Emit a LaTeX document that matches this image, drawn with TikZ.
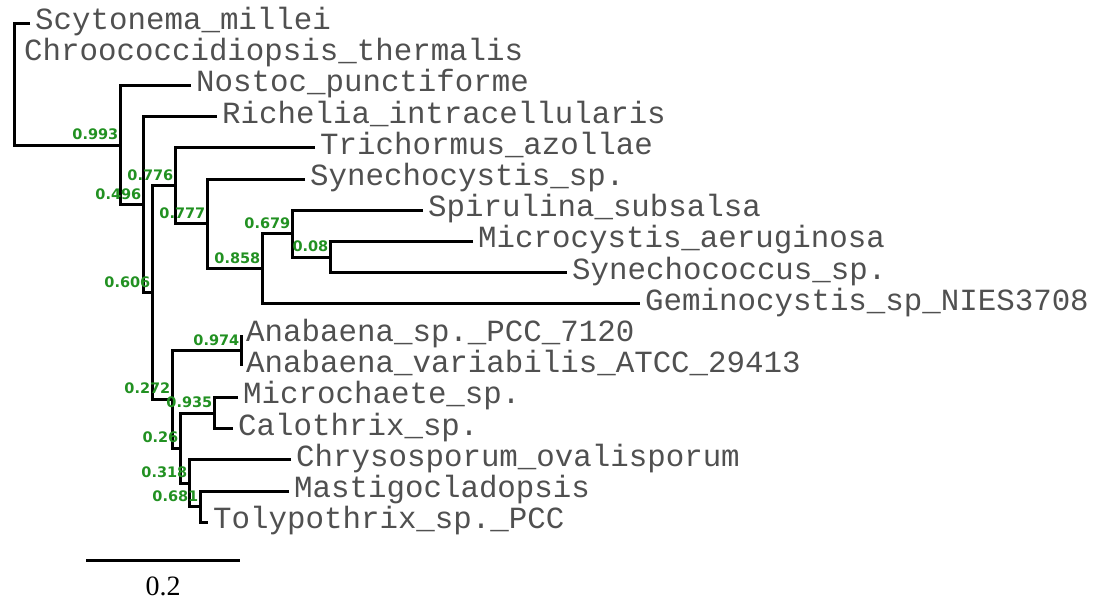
\documentclass[tikz,border=0pt]{standalone}
\usepackage{fontspec}
\newfontfamily\leaffont{Liberation Mono}
\newfontfamily\supfont{DejaVu Sans}
\newfontfamily\barfont{Liberation Serif}
\definecolor{supgreen}{RGB}{34,145,34}
\definecolor{leafgray}{RGB}{80,80,80}
\tikzset{
  branch/.style={line width=3pt, draw=black},
  leaflabel/.style={anchor=base west, inner sep=0pt, xshift=5pt, yshift=-6.5pt,
    text=leafgray, font=\leaffont\fontsize{30.8}{30.8}\selectfont},
  suplabel/.style={anchor=base east, inner sep=0pt, xshift=-1.5pt, yshift=5.5pt,
    text=supgreen, font=\supfont\bfseries\fontsize{14.5}{14.5}\selectfont},
  barlabel/.style={anchor=base, inner sep=0pt, font=\barfont\fontsize{28}{28}\selectfont}
}
\begin{document}
\begin{tikzpicture}[x=1pt,y=-1pt]
\useasboundingbox (0,0) rectangle (1095,600);
% leaf end points
\coordinate (Scy) at (30,23);
\coordinate (Chr) at (16,54.2);
\coordinate (Nos) at (191,85.4);
\coordinate (Ric) at (217,116.6);
\coordinate (Tri) at (315,147.8);
\coordinate (Syn) at (305,179);
\coordinate (Spi) at (423,210.2);
\coordinate (Mic) at (473,241.4);
\coordinate (Syc) at (567,272.6);
\coordinate (Gem) at (640,303.8);
\coordinate (An1) at (241,335);
\coordinate (An2) at (241,366.2);
\coordinate (Mch) at (238,397.4);
\coordinate (Cal) at (233,428.6);
\coordinate (Chy) at (291,459.8);
\coordinate (Mas) at (289,491);
\coordinate (Tol) at (208,522.2);
% internal nodes
\coordinate (R) at (14,54.2);
\coordinate (I) at (120,145);
\coordinate (H) at (143,204.6);
\coordinate (F) at (152,292.6);
\coordinate (E) at (175,185.8);
\coordinate (D) at (207,223.85);
\coordinate (C) at (262,268.7);
\coordinate (B) at (292,233.6);
\coordinate (A) at (330,257);
\coordinate (G) at (172,399.35);
\coordinate (N) at (241,350.6);
\coordinate (J) at (180,448.1);
\coordinate (M) at (214,413);
\coordinate (K) at (189,483.2);
\coordinate (L) at (200,506.6);
% branches
\draw[branch] (Scy) -| (R) |- (I);
\draw[branch] (R) -- (Chr);
\draw[branch] (Nos) -| (I) |- (H);
\draw[branch] (Ric) -| (H) |- (F);
\draw[branch] (E) -| (F) |- (G);
\draw[branch] (Tri) -| (E) |- (D);
\draw[branch] (Syn) -| (D) |- (C);
\draw[branch] (B) -| (C) |- (Gem);
\draw[branch] (Spi) -| (B) |- (A);
\draw[branch] (Mic) -| (A) |- (Syc);
\draw[branch] (N) -| (G) |- (J);
\draw[branch] (An1) -| (N) |- (An2);
\draw[branch] (M) -| (J) |- (K);
\draw[branch] (Mch) -| (M) |- (Cal);
\draw[branch] (Chy) -| (K) |- (L);
\draw[branch] (Mas) -| (L) |- (Tol);
% leaf labels
\node[leaflabel] (tScy) at (Scy) {Scytonema\_millei};
\node[leaflabel, xshift=3pt] (tChr) at (Chr) {Chroococcidiopsis\_thermalis};
\node[leaflabel] (tNos) at (Nos) {Nostoc\_punctiforme};
\node[leaflabel] (tRic) at (Ric) {Richelia\_intracellularis};
\node[leaflabel] (tTri) at (Tri) {Trichormus\_azollae};
\node[leaflabel] (tSyn) at (Syn) {Synechocystis\_sp.};
\node[leaflabel] (tSpi) at (Spi) {Spirulina\_subsalsa};
\node[leaflabel] (tMic) at (Mic) {Microcystis\_aeruginosa};
\node[leaflabel] (tSyc) at (Syc) {Synechococcus\_sp.};
\node[leaflabel] (tGem) at (Gem) {Geminocystis\_sp\_NIES3708};
\node[leaflabel] (tAn1) at (An1) {Anabaena\_sp.\_PCC\_7120};
\node[leaflabel] (tAn2) at (An2) {Anabaena\_variabilis\_ATCC\_29413};
\node[leaflabel] (tMch) at (Mch) {Microchaete\_sp.};
\node[leaflabel] (tCal) at (Cal) {Calothrix\_sp.};
\node[leaflabel] (tChy) at (Chy) {Chrysosporum\_ovalisporum};
\node[leaflabel] (tMas) at (Mas) {Mastigocladopsis};
\node[leaflabel] (tTol) at (Tol) {Tolypothrix\_sp.\_PCC};
% support values
\node[suplabel] (sI) at (I) {0.993};
\node[suplabel] (sH) at (H) {0.496};
\node[suplabel] (sE) at (E) {0.776};
\node[suplabel] (sD) at (D) {0.777};
\node[suplabel] (sC) at (C) {0.858};
\node[suplabel] (sB) at (B) {0.679};
\node[suplabel] (sA) at (A) {0.08};
\node[suplabel] (sF) at (F) {0.606};
\node[suplabel] (sN) at (N) {0.974};
\node[suplabel] (sG) at (G) {0.272};
\node[suplabel] (sM) at (M) {0.935};
\node[suplabel] (sJ) at (J) {0.26};
\node[suplabel] (sK) at (K) {0.318};
\node[suplabel] (sL) at (L) {0.681};
% scale bar
\coordinate (sb1) at (86,560);
\coordinate (sb2) at (240,560);
\draw[branch] (sb1) -- (sb2);
\node[barlabel] (sbl) at (163,595) {0.2};
\end{tikzpicture}
\end{document}
